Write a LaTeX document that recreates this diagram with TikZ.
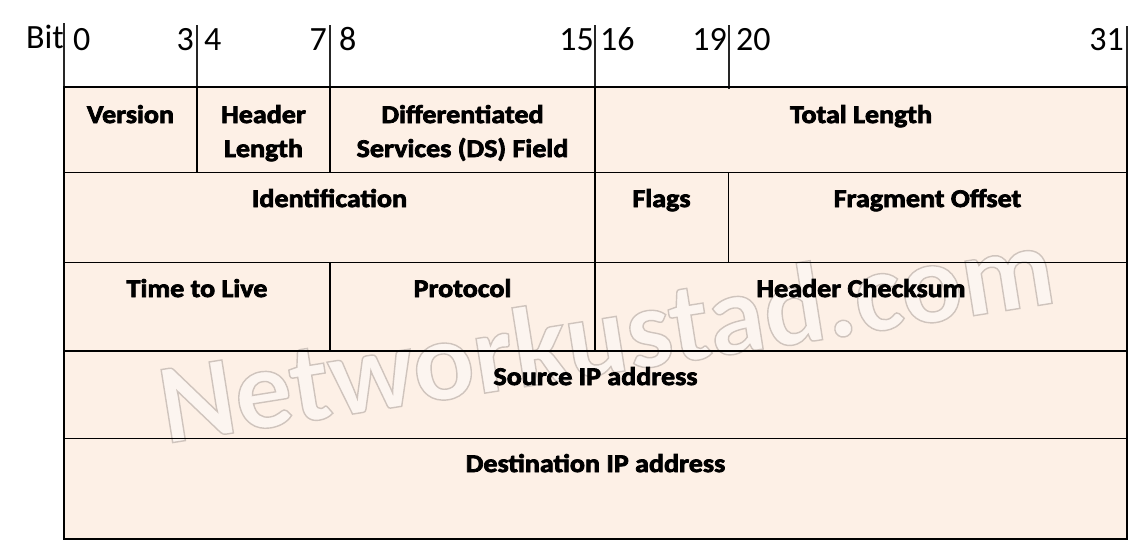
\documentclass[tikz,border=0pt]{standalone}
\usepackage{fontspec}
\setmainfont{Carlito}
\newfontfamily\lblfont{Carlito}[FakeStretch=1.1, FakeBold=3]
\newfontfamily\wmfont{Carlito}
\definecolor{cellfill}{RGB}{253,240,230}
\definecolor{wmfill}{RGB}{252,245,240}
\tikzset{
  lbl/.style={anchor=base, inner sep=0pt, align=center, font=\lblfont\bfseries\fontsize{25.5}{34}\selectfont},
  num/.style={anchor=base, inner sep=0pt, font=\fontsize{34}{34}\selectfont},
  grid/.style={draw=black, line width=1.6pt},
  tick/.style={draw=black!85, line width=1.6pt},
  watermark/.style={anchor=base, inner sep=0pt, rotate=9, text=wmfill, font=\wmfont\bfseries\fontsize{114}{114}\selectfont}
}
\begin{document}
\begin{tikzpicture}[x=1pt,y=-1pt]
\useasboundingbox (0,0) rectangle (1148,550);
\fill[white] (0,0) rectangle (1148,550);
% cell background
\fill[cellfill] (64,87) rectangle (1127,539);
% watermark
\node[watermark] (wm) at (612,373) {\special{pdf:literal direct 2 Tr 1.4 w 0.81 0.77 0.74 RG}Networkustad.com\special{pdf:literal direct 0 Tr}};
% bit ticks
\coordinate (t0a) at (64,23);  \coordinate (t0b) at (64,87);
\coordinate (t4a) at (197,25); \coordinate (t4b) at (197,87);
\coordinate (t8a) at (330,25); \coordinate (t8b) at (330,87);
\coordinate (t16a) at (595,25); \coordinate (t16b) at (595,87);
\coordinate (t20a) at (729,25); \coordinate (t20b) at (729,89);
\coordinate (t31a) at (1127,26); \coordinate (t31b) at (1127,87);
\foreach \t in {t0,t4,t8,t16,t20,t31} \draw[tick] (\t a) -- (\t b);
% outer frame and rows
\draw[grid] (64,87) rectangle (1127,539);
\draw[grid] (64,172.5) -- (1127,172.5);
\draw[grid] (64,262.5) -- (1127,262.5);
\draw[grid] (64,350.8) -- (1127,350.8);
\draw[grid] (64,438.5) -- (1127,438.5);
% column dividers
\draw[grid] (197,87) -- (197,172.5);
\draw[grid] (330,87) -- (330,172.5);
\draw[grid] (595,87) -- (595,350.8);
\draw[grid] (728.5,172.5) -- (728.5,262.5);
\draw[grid] (330,262.5) -- (330,350.8);
% bit numbers
\node[num, anchor=base east] (bit) at (64,48) {Bit};
\node[num, anchor=base west] (n0) at (73,50) {0};
\node[num, anchor=base east] (n3) at (194,50) {3};
\node[num, anchor=base west] (n4) at (204,50) {4};
\node[num, anchor=base east] (n7) at (327,50) {7};
\node[num, anchor=base west] (n8) at (339,50) {8};
\node[num, anchor=base east] (n15) at (594,50) {15};
\node[num, anchor=base west] (n16) at (600,50) {16};
\node[num, anchor=base east] (n19) at (727,50) {19};
\node[num, anchor=base west] (n20) at (736,50) {20};
\node[num, anchor=base east] (n31) at (1124,50) {31};
% field labels
\node[lbl] (ver) at (130.5,123) {Version};
\node[lbl] (hl) at (263.5,157) {Header\\Length};
\node[lbl] (ds) at (462.5,157) {Differentiated\\Services (DS) Field};
\node[lbl] (tl) at (861,123) {Total Length};
\node[lbl] (id) at (329.5,207) {Identification};
\node[lbl] (fl) at (661.5,207) {Flags};
\node[lbl] (fo) at (927.5,207) {Fragment Offset};
\node[lbl] (ttl) at (197,297) {Time to Live};
\node[lbl] (pr) at (462.5,297) {Protocol};
\node[lbl] (hc) at (861,297) {Header Checksum};
\node[lbl] (src) at (595.5,385) {Source IP address};
\node[lbl] (dst) at (595.5,472) {Destination IP address};
\end{tikzpicture}
\end{document}
